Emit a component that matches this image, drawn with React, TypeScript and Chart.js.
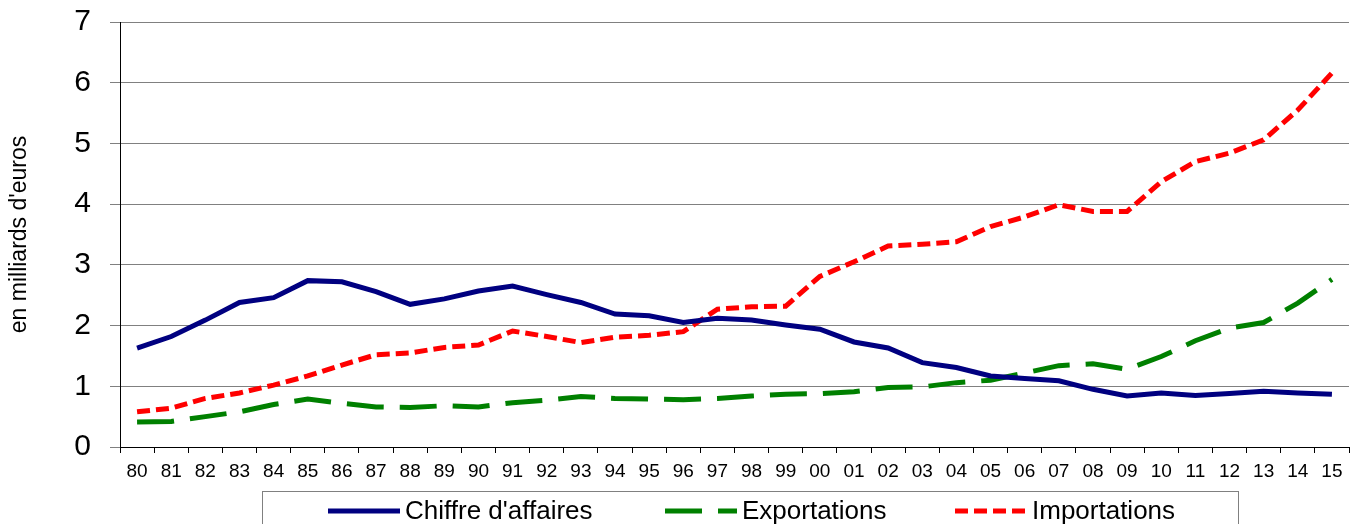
import React, { useEffect, useRef } from "react";
import { Chart, registerables } from "chart.js";

Chart.register(...registerables);

const years = [
  "80", "81", "82", "83", "84", "85", "86", "87", "88", "89",
  "90", "91", "92", "93", "94", "95", "96", "97", "98", "99",
  "00", "01", "02", "03", "04", "05", "06", "07", "08", "09",
  "10", "11", "12", "13", "14", "15",
];

const chiffreAffaires = [
  1.63, 1.82, 2.09, 2.38, 2.46, 2.74, 2.72, 2.56, 2.35, 2.44,
  2.57, 2.65, 2.51, 2.38, 2.19, 2.16, 2.05, 2.12, 2.09, 2.01,
  1.94, 1.73, 1.63, 1.39, 1.31, 1.17, 1.13, 1.09, 0.95, 0.84,
  0.89, 0.85, 0.88, 0.92, 0.89, 0.87,
];

const exportations = [
  0.41, 0.42, 0.50, 0.58, 0.70, 0.79, 0.72, 0.66, 0.65, 0.68,
  0.66, 0.73, 0.77, 0.83, 0.80, 0.79, 0.78, 0.80, 0.84, 0.87,
  0.88, 0.91, 0.98, 0.99, 1.06, 1.10, 1.22, 1.34, 1.37, 1.28,
  1.49, 1.75, 1.96, 2.05, 2.37, 2.76,
];

const importations = [
  0.58, 0.64, 0.80, 0.89, 1.02, 1.17, 1.35, 1.52, 1.55, 1.64,
  1.68, 1.91, 1.82, 1.72, 1.81, 1.84, 1.90, 2.27, 2.31, 2.32,
  2.81, 3.05, 3.31, 3.34, 3.38, 3.63, 3.79, 3.99, 3.88, 3.88,
  4.37, 4.70, 4.84, 5.06, 5.55, 6.16,
];

const seriesLabels = ["Chiffre d'affaires", "Exportations", "Importations"];
const yTitle = "en milliards d'euros";
const yMin = 0;
const yMax = 7;

const FONT = "'Liberation Sans', Arial, Helvetica, sans-serif";

const boxedLegend = {
  id: "boxedLegend",
  afterDraw(chart: any) {
    const ctx = chart.ctx as CanvasRenderingContext2D;
    ctx.save();
    ctx.strokeStyle = "#808080";
    ctx.lineWidth = 1;
    ctx.setLineDash([]);
    ctx.strokeRect(262.5, 491.5, 976, 60);
    const starts = [328, 665, 955];
    const y = 511;
    chart.data.datasets.forEach((ds: any, i: number) => {
      const x = starts[i];
      ctx.beginPath();
      ctx.setLineDash(ds.borderDash || []);
      ctx.lineCap = "butt";
      ctx.strokeStyle = ds.borderColor;
      ctx.lineWidth = ds.borderWidth;
      ctx.moveTo(x, y);
      ctx.lineTo(x + 72, y);
      ctx.stroke();
      ctx.setLineDash([]);
      ctx.fillStyle = "#000";
      ctx.font = `26px ${FONT}`;
      ctx.textBaseline = "middle";
      ctx.textAlign = "left";
      ctx.fillText(ds.label, x + 77, y + 1);
    });
    ctx.restore();
  },
};

export default function App() {
  const canvasRef = useRef<HTMLCanvasElement | null>(null);

  useEffect(() => {
    document.body.style.margin = "0";
    document.body.style.overflow = "hidden";
    const canvas = canvasRef.current;
    if (!canvas) return;
    const chart = new Chart(canvas, {
      type: "line",
      data: {
        labels: years,
        datasets: [
          {
            label: seriesLabels[0],
            data: chiffreAffaires,
            borderColor: "#000080",
            backgroundColor: "#000080",
            borderWidth: 5,
            pointRadius: 0,
            tension: 0,
            fill: false,
          },
          {
            label: seriesLabels[1],
            data: exportations,
            borderColor: "#008000",
            backgroundColor: "#008000",
            borderWidth: 5,
            borderDash: [37, 16],
            pointRadius: 0,
            tension: 0,
            fill: false,
          },
          {
            label: seriesLabels[2],
            data: importations,
            borderColor: "#ff0000",
            backgroundColor: "#ff0000",
            borderWidth: 5,
            borderDash: [13, 6],
            pointRadius: 0,
            tension: 0,
            fill: false,
          },
        ],
      },
      options: {
        responsive: false,
        animation: false,
        devicePixelRatio: 1,
        layout: { padding: { left: 0, top: 22, right: 11, bottom: 34 } },
        plugins: {
          legend: { display: false },
          tooltip: { enabled: false },
        },
        scales: {
          x: {
            type: "category",
            offset: true,
            grid: {
              offset: true,
              drawOnChartArea: false,
              drawTicks: true,
              tickLength: 6,
              color: "#000",
            },
            border: { display: true, color: "#000", width: 1 },
            ticks: {
              color: "#000",
              font: { family: FONT, size: 19 },
              padding: 7,
              maxRotation: 0,
              autoSkip: false,
            },
            afterFit: (scale: any) => {
              scale.height = 43;
              scale.paddingLeft = 0;
              scale.paddingRight = 0;
            },
          },
          y: {
            min: yMin,
            max: yMax,
            grid: {
              color: "#808080",
              lineWidth: 1,
              tickLength: 10,
            },
            border: { display: true, color: "#000", width: 1 },
            ticks: {
              stepSize: 1,
              color: "#000",
              font: { family: FONT, size: 30 },
              padding: 19,
            },
            title: {
              display: true,
              text: yTitle,
              color: "#000",
              font: { family: FONT, size: 23 },
              padding: { top: 6, bottom: 0 },
            },
            afterFit: (scale: any) => {
              scale.width = 120;
              scale.paddingTop = 0;
              scale.paddingBottom = 0;
            },
          },
        },
      },
      plugins: [boxedLegend],
    });
    return () => chart.destroy();
  }, []);

  return (
    <div style={{ width: 1360, height: 524 }}>
      <canvas ref={canvasRef} width={1360} height={524} style={{ display: "block" }} />
    </div>
  );
}
